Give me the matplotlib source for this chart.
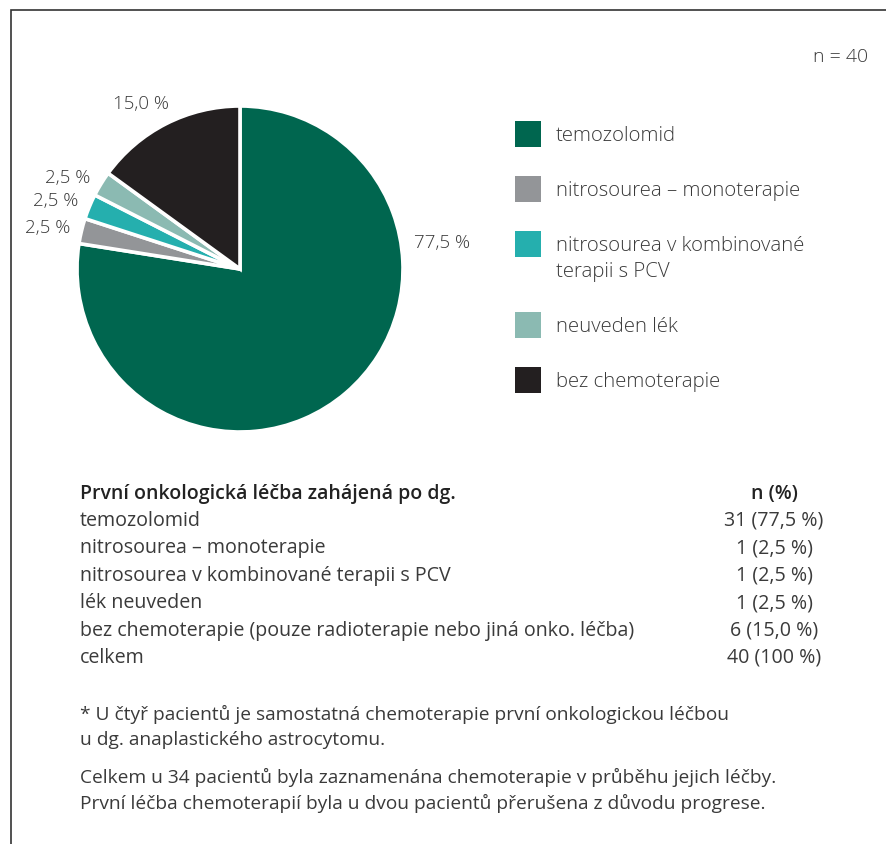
import matplotlib
matplotlib.use("Agg")
import matplotlib.pyplot as plt
from matplotlib.patches import Rectangle

plt.rcParams["font.family"] = ["Open Sans", "DejaVu Sans"]

# data
categories = [
    "temozolomid",
    "nitrosourea – monoterapie",
    "nitrosourea v kombinované\nterapii s PCV",
    "neuveden lék",
    "bez chemoterapie",
]
counts = [31, 1, 1, 1, 6]
colors = ["#00664f", "#939598", "#25afae", "#8bbab2", "#231f20"]

table_header = ["První onkologická léčba zahájená po dg.", "n (%)"]
table_rows = [
    "temozolomid",
    "nitrosourea – monoterapie",
    "nitrosourea v kombinované terapii s PCV",
    "lék neuveden",
    "bez chemoterapie (pouze radioterapie nebo jiná onko. léčba)",
    "celkem",
]
table_counts = [31, 1, 1, 1, 6, 40]

footnotes = [
    ["* U čtyř pacientů je samostatná chemoterapie první onkologickou léčbou",
     "u dg. anaplastického astrocytomu."],
    ["Celkem u 34 pacientů byla zaznamenána chemoterapie v průběhu jejich léčby.",
     "První léčba chemoterapií byla u dvou pacientů přerušena z důvodu progrese."],
]

TXT = "#3a3a3a"
W, H = 886, 845
total = sum(counts)


def pct(v):
    return f"{v / total * 100:.1f} %".replace(".", ",")


fig = plt.figure(figsize=(W / 100, H / 100), dpi=100)
fig.patch.set_facecolor("white")

# pie (centre ~ (240, 270) px, radius ~163 px)
cx, cy, r = 240, 270, 163
pax = fig.add_axes([(cx - r) / W, (H - cy - r) / H, 2 * r / W, 2 * r / H])
pax.pie(counts, colors=colors, startangle=90, counterclock=False,
        wedgeprops=dict(edgecolor="white", linewidth=2.6))
pax.set_xlim(-1, 1)
pax.set_ylim(-1, 1)
pax.axis("off")

# overlay in pixel coords
ax = fig.add_axes([0, 0, 1, 1])
ax.set_xlim(0, W)
ax.set_ylim(H, 0)
ax.axis("off")

# frame (left + top)
ax.plot([11, 11, W], [H, 11, 11], color="#333333", linewidth=1.2,
        solid_joinstyle="miter")

ax.text(868, 57, f"n = {total}", ha="right", va="center", fontsize=14,
        color=TXT, fontweight="light")

# pie labels
label_pos = [(442, 243, "center"), (70, 228, "right"), (78, 201, "right"),
             (90, 178, "right"), (141, 104, "center")]
for v, (x, y, ha) in zip(counts, label_pos):
    ax.text(x, y, pct(v), ha=ha, va="center", fontsize=13.5, color=TXT,
            fontweight="light")

# legend
y = 135
for lab, col in zip(categories, colors):
    ax.add_patch(Rectangle((515, y - 13), 26, 26, facecolor=col, edgecolor="none"))
    lines = lab.split("\n")
    for i, ln in enumerate(lines):
        ax.text(556, y + 1 + i * 26, ln, ha="left", va="center", fontsize=14.7,
                color=TXT, fontweight="light")
    y += 55 + 26 * (len(lines) - 1)

# table
ax.text(80, 494, table_header[0], ha="left", va="center", fontsize=14,
        color="#222222", fontweight="semibold")
ax.text(774, 494, table_header[1], ha="center", va="center", fontsize=14,
        color="#222222", fontweight="semibold")
for i, (lab, n) in enumerate(zip(table_rows, table_counts)):
    yy = 521 + i * 27.4
    ax.text(80, yy, lab, ha="left", va="center", fontsize=14.1, color=TXT)
    p = f"{n / total * 100:.1f}".replace(".", ",") if n != total else "100"
    ax.text(774, yy, f"{n} ({p} %)", ha="center", va="center", fontsize=14.1,
            color=TXT)

# notes
for block, y0 in zip(footnotes, [714, 777]):
    for i, ln in enumerate(block):
        ax.text(80, y0 + i * 26.5, ln, ha="left", va="center", fontsize=13.8,
                color=TXT)

fig.savefig("out.png", dpi=100, facecolor="white")
